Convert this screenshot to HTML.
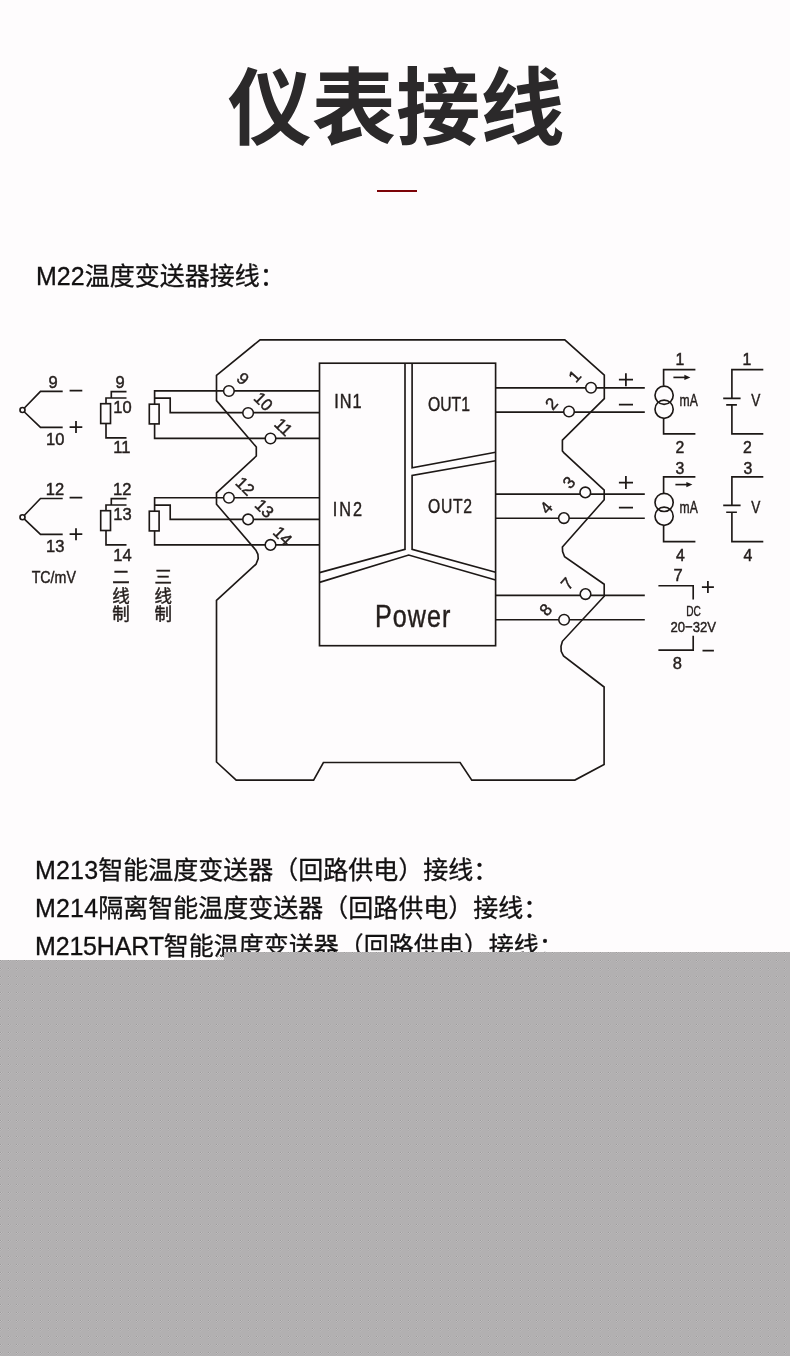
<!DOCTYPE html>
<html lang="zh-CN">
<head>
<meta charset="utf-8">
<title>仪表接线</title>
<style>
html,body{margin:0;padding:0;}
body{width:790px;height:1356px;position:relative;overflow:hidden;background:#fefcfd;
  font-family:"Liberation Sans","Noto Sans CJK SC",sans-serif;color:#1e1c1d;}
.title{position:absolute;left:1px;top:48.5px;width:790px;margin:0;text-align:center;
  font-weight:700;font-size:84.3px;line-height:120px;color:#2b292a;letter-spacing:0;}
.rule{position:absolute;left:377px;top:190px;width:40px;height:2px;background:#7c0307;}
.h{position:absolute;left:36px;margin:0;font-size:25px;line-height:38px;font-weight:400;white-space:nowrap;color:#121011;-webkit-text-stroke:0.3px #121011;}
#dia{position:absolute;left:0;top:330px;will-change:transform;}
.title,.h{will-change:transform;}
#dia text{font-family:"Liberation Sans","Noto Sans CJK SC",sans-serif;fill:#241e1c;stroke:#241e1c;stroke-width:0.45px;}
</style>
</head>
<body>
<h1 class="title">仪表接线</h1>
<div class="rule"></div>
<p class="h" style="top:256.5px">M22温度变送器接线：</p>

<svg id="dia" width="790" height="470" viewBox="0 330 790 470">
<g id="lines" fill="none" stroke="#1d1816" stroke-width="1.65" stroke-linejoin="miter">
<!-- housing outline -->
<path d="M260.1,339.8 L564.8,339.8 L604.3,375.2 L604.3,398.6 L562.4,440.1 L562.4,451 L564,452.8 L604.2,490.1 L604.2,499.7 L562.4,547 L562.6,551.5 L564.6,556.7 L604.2,584.3 L604.2,596.2 L562.4,641.3 L561,646.3 L561.2,651.4 L563.5,655.9 L604.1,687 L604.1,764.5 L574.9,780.1 L471.8,780.1 L460.1,762.5 L323.4,762.5 L313.6,780.1 L236.2,780.1 L216.5,762 L216.5,600.3 L256,564.2 L258.2,558.5 L257.9,554.3 L255.9,550.2 L216.5,504.2 L216.5,492.9 L256.3,456 L256.3,447 L216.5,400.6 L216.5,375.3 Z"/>
<!-- inner block -->
<rect x="319.5" y="363.2" width="176.1" height="282.5"/>
<path d="M405,363.1 L405,549.4 L319.5,572.6"/>
<path d="M412.1,363.1 L412.1,467.8 L495.6,452.3"/>
<path d="M495.6,460.7 L412.1,475.4 L412.1,549.4 L495.6,572.3"/>
<path d="M319.5,582.4 L408.7,555 L495.6,580"/>
<!-- left wires -->
<path d="M154.6,404.2 L154.6,390.9 L319.5,390.9"/>
<path d="M154.6,398.1 L170.2,398.1 L170.2,412.6 L319.5,412.6"/>
<path d="M154.6,423.9 L154.6,438.4 L319.5,438.4"/>
<rect x="149.3" y="404.2" width="9.8" height="19.7"/>
<path d="M154.6,511.2 L154.6,497.7 L319.5,497.7"/>
<path d="M154.6,505.1 L170.2,505.1 L170.2,519.4 L319.5,519.4"/>
<path d="M154.6,530.9 L154.6,544.8 L319.5,544.8"/>
<rect x="149.3" y="511.2" width="9.8" height="19.7"/>
<!-- 2-wire RTDs -->
<path d="M126.5,391.6 L111.3,391.6 L111.3,398 M126.5,398 L106,398 L106,403.7 M106,423.5 L106,437.9 L126.5,437.9"/>
<rect x="100.7" y="403.7" width="9.8" height="19.8"/>
<path d="M126.5,498.6 L111.3,498.6 L111.3,505 M126.5,505 L106,505 L106,510.7 M106,530.5 L106,544.9 L126.5,544.9"/>
<rect x="100.7" y="510.7" width="9.8" height="19.8"/>
<!-- thermocouples -->
<path d="M62.7,391.4 L40.5,391.4 L24.4,408 M24.4,412 L40.5,427.3 L62.7,427.3"/>
<circle cx="22.5" cy="410" r="2.5"/>
<path d="M62.7,498.5 L40.5,498.5 L24.4,515.2 M24.4,519.2 L40.5,534.4 L62.7,534.4"/>
<circle cx="22.5" cy="517.2" r="2.5"/>
<!-- right wires -->
<path d="M495.6,387.8 H644.8 M495.6,412.1 H644.8 M495.6,494.1 H644.8 M495.6,518.2 H644.8 M495.6,595.3 H644.8 M495.6,619.7 H644.8"/>
<!-- mA sources -->
<path d="M695.4,369.6 H663.6 V385.8 M663.6,418.8 V433.9 H695.4"/>
<circle cx="664.1" cy="395.3" r="9.1"/><circle cx="664.1" cy="409.2" r="9.1"/>
<path d="M673.4,377.4 H686"/>
<path d="M695.4,476.9 H663.6 V493 M663.6,525.8 V541.6 H695.4"/>
<circle cx="664.1" cy="502.4" r="9.1"/><circle cx="664.1" cy="516.2" r="9.1"/>
<path d="M675.4,484.6 H688"/>
<!-- V sources -->
<path d="M763.3,369.6 H731.9 V398.3 M723.2,398.3 H740.6 M726.2,404.9 H736.9 M731.9,404.9 V433.9 H763.3"/>
<path d="M763.3,476.9 H731.9 V505.4 M723.2,505.4 H740.6 M726.2,512.2 H736.9 M731.9,512.2 V541.6 H763.3"/>
<!-- DC supply -->
<path d="M658.4,585.7 H693.2 V599.6 M693.2,635.7 V650.1 H658.4"/>
</g>
<g fill="#1d1816" stroke="none">
<path d="M690.4,377.4 L684.4,374.7 L684.4,380.1 Z"/>
<path d="M692.4,484.6 L686.4,481.9 L686.4,487.3 Z"/>
</g>
<!-- plus / minus signs -->
<g fill="none" stroke="#1d1816" stroke-width="1.75">
<path d="M69.6,390.6 H82.3 M69.6,427 H82.3 M76,421 V433"/>
<path d="M69.6,497.6 H82.3 M69.6,534.2 H82.3 M76,528.2 V540.2"/>
<path d="M618.9,379.7 H633 M625.9,373.2 V386.2 M618.9,404.5 H633"/>
<path d="M618.9,482.5 H633 M625.9,476 V489 M618.9,507.5 H633"/>
<path d="M701.9,587 H713.9 M707.9,581 V593 M702.5,650.6 H713.9"/>
</g>
<!-- terminals -->
<g fill="#fefcfd" stroke="#1d1816" stroke-width="1.55">
<circle cx="228.9" cy="391" r="5.3"/><circle cx="248.1" cy="413" r="5.3"/><circle cx="270.5" cy="438.5" r="5.3"/>
<circle cx="228.9" cy="497.7" r="5.3"/><circle cx="248.1" cy="519.4" r="5.3"/><circle cx="270.5" cy="544.9" r="5.3"/>
<circle cx="591" cy="387.7" r="5.3"/><circle cx="569" cy="411.5" r="5.3"/>
<circle cx="585.3" cy="492.4" r="5.3"/><circle cx="563.9" cy="518.1" r="5.3"/>
<circle cx="585.5" cy="594.1" r="5.3"/><circle cx="564.1" cy="619.7" r="5.3"/>
</g>
<g id="labels" text-anchor="middle" font-size="16.5">
<!-- thermocouple labels -->
<text x="53.2" y="388.1">9</text><text x="55.3" y="445.3">10</text>
<text x="55" y="494.9">12</text><text x="55.3" y="551.9">13</text>
<!-- RTD labels -->
<text x="120.2" y="387.8">9</text><text x="122.4" y="413.3">10</text><text x="121.8" y="453.4">11</text>
<text x="122.2" y="494.9">12</text><text x="122.4" y="520.3">13</text><text x="122.4" y="560.5">14</text>
<text x="53.8" y="582.6" textLength="44.3" lengthAdjust="spacingAndGlyphs">TC/mV</text>
</g>
<g text-anchor="middle" font-size="17.5">
<text x="121" y="582.8">二</text><text x="121" y="601.6">线</text><text x="121" y="619.6">制</text>
<text x="163.3" y="582.8">三</text><text x="163.3" y="601.6">线</text><text x="163.3" y="619.6">制</text>
</g>
<!-- rotated terminal numbers -->
<g text-anchor="middle" font-size="16.8">
<text transform="translate(243,378.5) rotate(45)" y="6">9</text>
<text transform="translate(263.5,401.3) rotate(45)" y="6">10</text>
<text transform="translate(283.7,426.8) rotate(45)" y="6">11</text>
<text transform="translate(245.3,486) rotate(45)" y="6">12</text>
<text transform="translate(264.5,508.3) rotate(45)" y="6">13</text>
<text transform="translate(282.8,535.7) rotate(45)" y="6">14</text>
<text transform="translate(574.5,376) rotate(-49)" y="6">1</text>
<text transform="translate(551.3,403.6) rotate(-49)" y="6">2</text>
<text transform="translate(568.7,482.3) rotate(-49)" y="6">3</text>
<text transform="translate(546.1,507.5) rotate(-49)" y="6">4</text>
<text transform="translate(567,583.5) rotate(-49)" y="6">7</text>
<text transform="translate(545.6,609.6) rotate(-49)" y="6">8</text>
</g>
<!-- block names -->
<g>
<text transform="translate(334.2,408.2) scale(0.84,1)" font-size="19.4" textLength="32.7" lengthAdjust="spacing">IN1</text>
<text transform="translate(332.8,515.5) scale(0.84,1)" font-size="19.4" textLength="34.8" lengthAdjust="spacing">IN2</text>
<text transform="translate(428,410.6) scale(0.77,1)" font-size="20.4" textLength="54.5" lengthAdjust="spacing">OUT1</text>
<text transform="translate(428,512.9) scale(0.77,1)" font-size="20.4" textLength="57.1" lengthAdjust="spacing">OUT2</text>
<text transform="translate(375,627) scale(0.81,1)" font-size="31" textLength="93.2" lengthAdjust="spacing">Power</text>
</g>
<!-- source labels -->
<g text-anchor="middle" font-size="15.8">
<text x="680" y="364.7">1</text><text x="680" y="452.8">2</text><text x="680" y="473.5">3</text><text x="680.3" y="561">4</text>
<text x="747" y="364.7">1</text><text x="747.5" y="452.8">2</text><text x="748" y="473.5">3</text><text x="748" y="561">4</text>
</g>
<g font-size="16.4">
<text x="679.6" y="405.6" textLength="18.2" lengthAdjust="spacingAndGlyphs">mA</text>
<text x="679.6" y="512.8" textLength="18.2" lengthAdjust="spacingAndGlyphs">mA</text>
<text x="751.3" y="405.6" font-size="16.2" textLength="9.1" lengthAdjust="spacingAndGlyphs">V</text>
<text x="751.3" y="512.7" font-size="16.2" textLength="9.1" lengthAdjust="spacingAndGlyphs">V</text>
</g>
<g text-anchor="middle" font-size="16.5">
<text x="678" y="581.4">7</text><text x="677.4" y="668.6">8</text>
</g>
<text x="686.3" y="615.8" font-size="14.6" textLength="14.6" lengthAdjust="spacingAndGlyphs">DC</text>
<text x="670.4" y="631.6" font-size="15.3" textLength="45.6" lengthAdjust="spacingAndGlyphs">20−32V</text>
</svg>

<p class="h" style="top:850.5px;left:35.3px"><span style="letter-spacing:0.17px">M213</span>智能温度变送器（回路供电）接线：</p>
<p class="h" style="top:888.5px;left:35.3px"><span style="letter-spacing:0.17px">M214</span>隔离智能温度变送器（回路供电）接线：</p>
<p class="h" style="top:926.8px;left:35.3px"><span style="letter-spacing:-0.17px">M215HART</span>智能温度变送器（回路供电）接线：</p>

<svg id="grey" width="790" height="404" viewBox="0 952 790 404" style="position:absolute;left:0;top:952px">
<defs>
<pattern id="jp" width="8" height="8" patternUnits="userSpaceOnUse">
<rect x="0" y="0" width="1" height="1" fill="#000" fill-opacity=".12"/>
<rect x="1" y="0" width="1" height="1" fill="#fff" fill-opacity=".18"/>
<rect x="2" y="0" width="1" height="1" fill="#000" fill-opacity=".045"/>
<rect x="3" y="0" width="1" height="1" fill="#fff" fill-opacity=".05"/>
<rect x="0" y="1" width="1" height="1" fill="#fff" fill-opacity=".18"/>
<rect x="1" y="1" width="1" height="1" fill="#000" fill-opacity=".056"/>
<rect x="2" y="1" width="1" height="1" fill="#fff" fill-opacity=".065"/>
<rect x="0" y="2" width="1" height="1" fill="#000" fill-opacity=".045"/>
<rect x="1" y="2" width="1" height="1" fill="#fff" fill-opacity=".065"/>
<rect x="0" y="3" width="1" height="1" fill="#fff" fill-opacity=".05"/>
</pattern>
<pattern id="ck" width="2" height="2" patternUnits="userSpaceOnUse">
<rect x="0" y="0" width="1" height="1" fill="#bdbbbc"/><rect x="1" y="1" width="1" height="1" fill="#bdbbbc"/>
</pattern>
</defs>
<path d="M0,960 H224 V952 H790 V1356 H0 Z" fill="#b2b0b1"/>
<path d="M0,960 H224 V952 H790 V1356 H0 Z" fill="url(#jp)"/>
<rect x="217" y="955" width="7" height="5" fill="url(#ck)" fill-opacity=".55"/>
</svg>
</body>
</html>
